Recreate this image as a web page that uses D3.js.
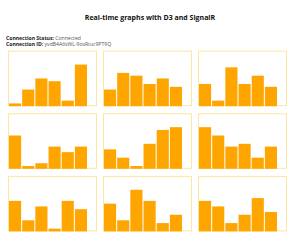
<!DOCTYPE html>
<html>
<head>
<meta charset="utf-8">
<script src="https://cdn.jsdelivr.net/npm/d3@7"></script>
<style>
  body { margin: 0; background: #fff; }
  svg { display: block; font-family: "Open Sans", sans-serif; }
</style>
</head>
<body>
<div id="chart"></div>
<script>
// values for each of the 9 live graphs (6 bars each)
const graph1 = [1, 6, 10, 9, 2, 15];
const graph2 = [6, 12, 11, 8, 10, 7];
const graph3 = [8, 2, 14, 8, 11, 7];
const graph4 = [12, 1, 2, 8, 6, 8];
const graph5 = [7, 4, 1, 9, 14, 15];
const graph6 = [15, 12, 8, 9, 4, 8];
const graph7 = [11, 4, 9, 1, 11, 8];
const graph8 = [10, 4, 15, 11, 3, 6];
const graph9 = [11, 9, 3, 6, 12, 7];
const graphs = [graph1, graph2, graph3, graph4, graph5, graph6, graph7, graph8, graph9];

const titleText = 'Real-time graphs with D3 and SignalR';
const statusText = 'Connected';
const connectionId = 'yvdB4A6sWL-9osRtuc9PT9Q';

const width = 300, height = 247;
const svg = d3.select('#chart').append('svg')
  .attr('width', width).attr('height', height);

svg.append('text')
  .attr('x', 150).attr('y', 20)
  .attr('text-anchor', 'middle')
  .attr('font-size', 7).attr('font-weight', 'bold').attr('fill', '#111')
  .text(titleText);

const info = svg.append('g').attr('font-size', 5.1).attr('fill', '#222');
const l1 = info.append('text').attr('x', 6).attr('y', 40);
l1.append('tspan').attr('font-weight', 'bold').text('Connection Status: ');
l1.append('tspan').attr('fill', '#555').text(statusText);
const l2 = info.append('text').attr('x', 6).attr('y', 45.7);
l2.append('tspan').attr('font-weight', 'bold').text('Connection ID: ');
l2.append('tspan').attr('fill', '#555').text(connectionId);

// panel grid
const panelW = 89, panelH = 55.5;
const colX = d3.scaleLinear().domain([0, 1]).range([8, 103]);
const rowY = d3.scaleLinear().domain([0, 1]).range([50.7, 113.3]);

const x = d3.scaleBand().domain(d3.range(6)).range([1, 79]).paddingInner(0.08);
const y = d3.scaleLinear().domain([0, 20]).range([panelH, 0]);

graphs.forEach((vals, i) => {
  const g = svg.append('g')
    .attr('transform', `translate(${colX(i % 3)},${rowY(Math.floor(i / 3))})`);
  g.append('rect')
    .attr('x', 0.5).attr('y', 0.5)
    .attr('width', panelW - 1).attr('height', panelH - 1)
    .attr('fill', 'none').attr('stroke', '#fbe7a1').attr('stroke-width', 1);
  g.selectAll('rect.bar').data(vals).join('rect')
    .attr('class', 'bar')
    .attr('x', (d, j) => x(j))
    .attr('y', d => y(d))
    .attr('width', x.bandwidth())
    .attr('height', d => y(0) - y(d))
    .attr('fill', '#ffa500');
});
</script>
</body>
</html>
